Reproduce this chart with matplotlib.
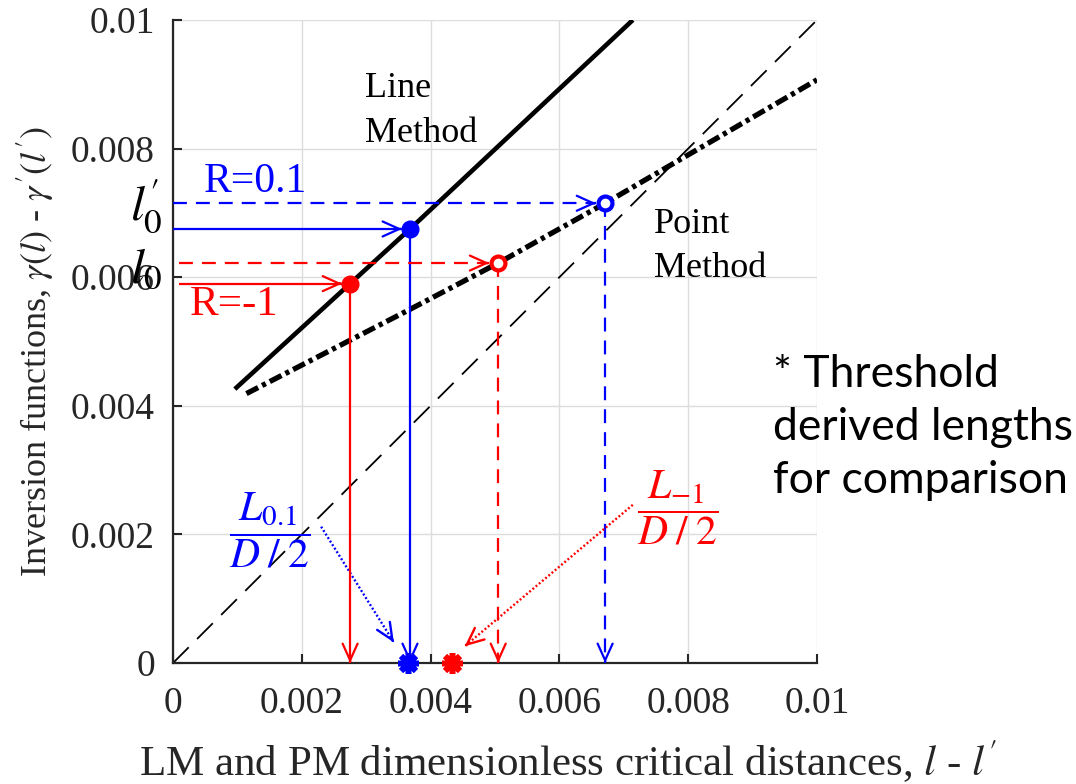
import matplotlib
matplotlib.use("Agg")
import matplotlib.pyplot as plt
import numpy as np

plt.rcParams['font.family'] = ['Liberation Serif', 'DejaVu Serif']
plt.rcParams['mathtext.fontset'] = 'stix'
plt.rcParams['lines.scale_dashes'] = False

# ---------------- data ----------------
ticks = [0, 0.002, 0.004, 0.006, 0.008, 0.01]
tick_labels = ['0', '0.002', '0.004', '0.006', '0.008', '0.01']

diag_x = [0.0, 0.01]
diag_y = [0.0, 0.01]

# Line Method inversion function
lm_x = [0.00096, 0.00275, 0.00368, 0.00714]
lm_y = [0.00426, 0.00590, 0.00675, 0.01000]

# Point Method inversion function
pm_x = [0.00114, 0.00275, 0.00368, 0.00505, 0.00671, 0.01000]
pm_y = [0.00419, 0.00502, 0.00550, 0.00622, 0.00715, 0.00907]

series = ['R=0.1', 'R=-1']
series_colors = ['#0000ff', '#ff0000']
lm_crit_x = [0.00368, 0.00275]
lm_crit_y = [0.00675, 0.00590]
pm_crit_x = [0.00671, 0.00505]
pm_crit_y = [0.00715, 0.00622]
hline_start_x = [0.0, 0.0001]
threshold_x = [0.00365, 0.00434]
threshold_y = [0.0, 0.0]

# leaders from fraction labels to threshold markers
leader_start = [(0.00230, 0.00212), (0.00714, 0.00246)]
leader_end = [(0.00343, 0.00032), (0.00453, 0.00026)]

W, H = 1076, 784
fig = plt.figure(figsize=(W / 100, H / 100), dpi=100)
ax = fig.add_axes([173 / W, 121 / H, 644 / W, 643 / H])
ax.set_xlim(0, 0.01)
ax.set_ylim(0, 0.01)
ax.set_xticks(ticks)
ax.set_xticklabels(tick_labels)
ax.set_yticks(ticks)
ax.set_yticklabels(tick_labels)
ax.tick_params(direction='in', length=6.5, width=1.5, labelsize=27,
               color='#262626', labelcolor='#262626')
ax.tick_params(axis='x', pad=17)
ax.tick_params(axis='y', pad=13)
for s in ['top', 'right']:
    ax.spines[s].set_visible(False)
for s in ['left', 'bottom']:
    ax.spines[s].set_linewidth(1.6)
    ax.spines[s].set_color('#262626')
ax.grid(True, color='#dcdcdc', lw=1)
ax.set_axisbelow(True)

# curves
ax.plot(diag_x, diag_y, color='k', lw=1.3, dashes=(16, 8.5), zorder=2)
ax.plot(lm_x, lm_y, color='k', lw=3.3, solid_capstyle='butt', zorder=3)
ax.plot(pm_x, pm_y, color='k', lw=3.8, dashes=(9.5, 3.2, 3.0, 3.2),
        dash_capstyle='butt', zorder=3)

fig.canvas.draw()
inv = ax.transData.inverted()


def arrow(start, end, color, back_px=0.0, dashes=None, lw=1.6):
    p0 = ax.transData.transform(start)
    p1 = ax.transData.transform(end)
    d = (p1 - p0) / np.hypot(*(p1 - p0))
    tip = p1 - d * back_px
    tail = tip - d * 2.0
    tip_d = inv.transform(tip)
    tail_d = inv.transform(tail)
    kw = dict(color=color, lw=lw, zorder=4, clip_on=False, solid_capstyle='butt')
    if dashes is not None:
        kw['dashes'] = dashes
        kw['dash_capstyle'] = 'butt'
    ax.plot([start[0], tip_d[0]], [start[1], tip_d[1]], **kw)
    ax.annotate('', xy=tip_d, xytext=tail_d,
                arrowprops=dict(arrowstyle='->,head_length=0.6,head_width=0.27',
                                mutation_scale=20, color=color, lw=lw,
                                shrinkA=0, shrinkB=0, linestyle='-'),
                annotation_clip=False, zorder=4)


for i in range(2):
    c = series_colors[i]
    # LM solid arrows
    arrow((hline_start_x[i], lm_crit_y[i]), (lm_crit_x[i], lm_crit_y[i]), c, back_px=8)
    arrow((lm_crit_x[i], lm_crit_y[i]), (lm_crit_x[i], 0.0), c)
    # PM dashed arrows
    arrow((hline_start_x[i], pm_crit_y[i]), (pm_crit_x[i], pm_crit_y[i]), c,
          back_px=9, dashes=(10, 6.5))
    arrow((pm_crit_x[i], pm_crit_y[i]), (pm_crit_x[i], 0.0), c, dashes=(10, 6.5))
    # leader (dotted)
    arrow(leader_start[i], leader_end[i], c, dashes=(1.4, 1.6), lw=1.7)
    # markers
    ax.plot(lm_crit_x[i], lm_crit_y[i], 'o', ms=12, color=c, zorder=6)
    ax.plot(pm_crit_x[i], pm_crit_y[i], 'o', ms=10, mfc='white', mec=c,
            mew=3, zorder=6)
    ax.plot(threshold_x[i], threshold_y[i], marker=(8, 2, 0), ms=15, mew=4,
            color=c, zorder=7, clip_on=False, linestyle='none')


def px2d(px, py):
    return (px - 173) / 64400.0, (663 - py) / 64300.0


# text labels
for txt, (px, py) in [('Line', (365, 97)), ('Method', (365, 142)),
                      ('Point', (654, 233)), ('Method', (654, 277))]:
    x, y = px2d(px, py)
    ax.text(x, y, txt, fontsize=26, ha='left', va='baseline', color='k', zorder=8)

x, y = px2d(204, 192)
ax.text(x, y, series[0], fontsize=30, color=series_colors[0], ha='left', va='baseline')
x, y = px2d(190, 315)
ax.text(x, y, series[1], fontsize=31, color=series_colors[1], ha='left', va='baseline')

x, y = px2d(163, 220)
ax.text(x, y, r"$l^{\prime}_{0}$", fontsize=36, ha='right', va='baseline', clip_on=False)
x, y = px2d(163, 282)
ax.text(x, y, r"$l_{0}$", fontsize=36, ha='right', va='baseline', clip_on=False)

x, y = px2d(270, 530)
ax.text(x, y, r"$\dfrac{L_{0.1}}{D\;/\;2}$", fontsize=30, color=series_colors[0],
        ha='center', va='center')
x, y = px2d(678, 508)
ax.text(x, y, r"$\dfrac{L_{-1}}{D\;/\;2}$", fontsize=30, color=series_colors[1],
        ha='center', va='center')

# axis labels
ax.text((568 - 173) / 644, (663 - 776) / 643,
        r"LM and PM dimensionless critical distances, $l$ - $l'$",
        transform=ax.transAxes, fontsize=31, ha='center', va='baseline',
        color='#262626')
ax.text((35 - 173) / 644, (663 - 352) / 643,
        r"Inversion functions, $\gamma(l)$ - $\gamma'(l')$",
        transform=ax.transAxes, fontsize=26, ha='center', va='center',
        rotation=90, color='#262626')

# side note
for txt, py in [('* Threshold', 387), ('derived lengths', 440), ('for comparison', 493)]:
    fig.text(773 / W, 1 - py / H, txt, fontsize=32, family='Lato',
             ha='left', va='baseline', color='k')

fig.savefig('out.png', dpi=100)
